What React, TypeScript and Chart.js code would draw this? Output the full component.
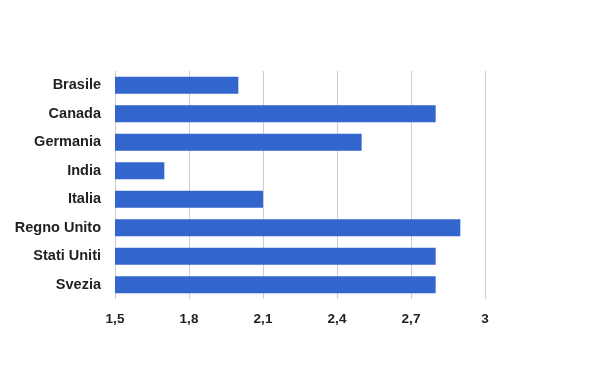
import React, { useEffect, useRef } from "react";
import { Chart, registerables } from "chart.js";

Chart.register(...registerables);

const categories = ["Brasile", "Canada", "Germania", "India", "Italia", "Regno Unito", "Stati Uniti", "Svezia"];
const values = [2.0, 2.8, 2.5, 1.7, 2.1, 2.9, 2.8, 2.8];
const xMin = 1.5;
const xMax = 3;
const xStep = 0.3;

export default function App() {
  const ref = useRef<HTMLCanvasElement | null>(null);
  useEffect(() => {
    document.body.style.margin = "0";
    const family = "'Liberation Sans', Arial, sans-serif";
    const chart = new Chart(ref.current!, {
      type: "bar",
      data: {
        labels: categories,
        datasets: [
          {
            data: values,
            backgroundColor: "#3366cc",
            borderWidth: 0,
            categoryPercentage: 0.6,
            barPercentage: 1,
          },
        ],
      },
      options: {
        indexAxis: "y",
        animation: false,
        responsive: false,
        maintainAspectRatio: false,
        layout: { padding: { top: 71, right: 115, bottom: 32, left: 0 } },
        plugins: { legend: { display: false }, tooltip: { enabled: false } },
        scales: {
          x: {
            min: xMin,
            max: xMax,
            afterFit: (s: any) => {
              s.height = 40;
            },
            ticks: {
              stepSize: xStep,
              padding: 12,
              color: "#222",
              font: { family, size: 13.5, weight: "bold" },
              callback: (v: any) => String(Math.round(Number(v) * 10) / 10).replace(".", ","),
            },
            grid: { color: "#cccccc", drawTicks: false, lineWidth: 1 },
            border: { display: false },
          },
          y: {
            afterFit: (s: any) => {
              s.width = 115;
            },
            ticks: { padding: 14, color: "#222", font: { family, size: 14.5, weight: "bold" } },
            grid: { display: false, drawTicks: false },
            border: { display: false },
          },
        },
      },
    });
    return () => chart.destroy();
  }, []);
  return (
    <div style={{ position: "absolute", left: 0, top: 0, width: 600, height: 371, background: "#fff" }}>
      <canvas ref={ref} width={600} height={371} style={{ width: 600, height: 371, display: "block" }} />
    </div>
  );
}
